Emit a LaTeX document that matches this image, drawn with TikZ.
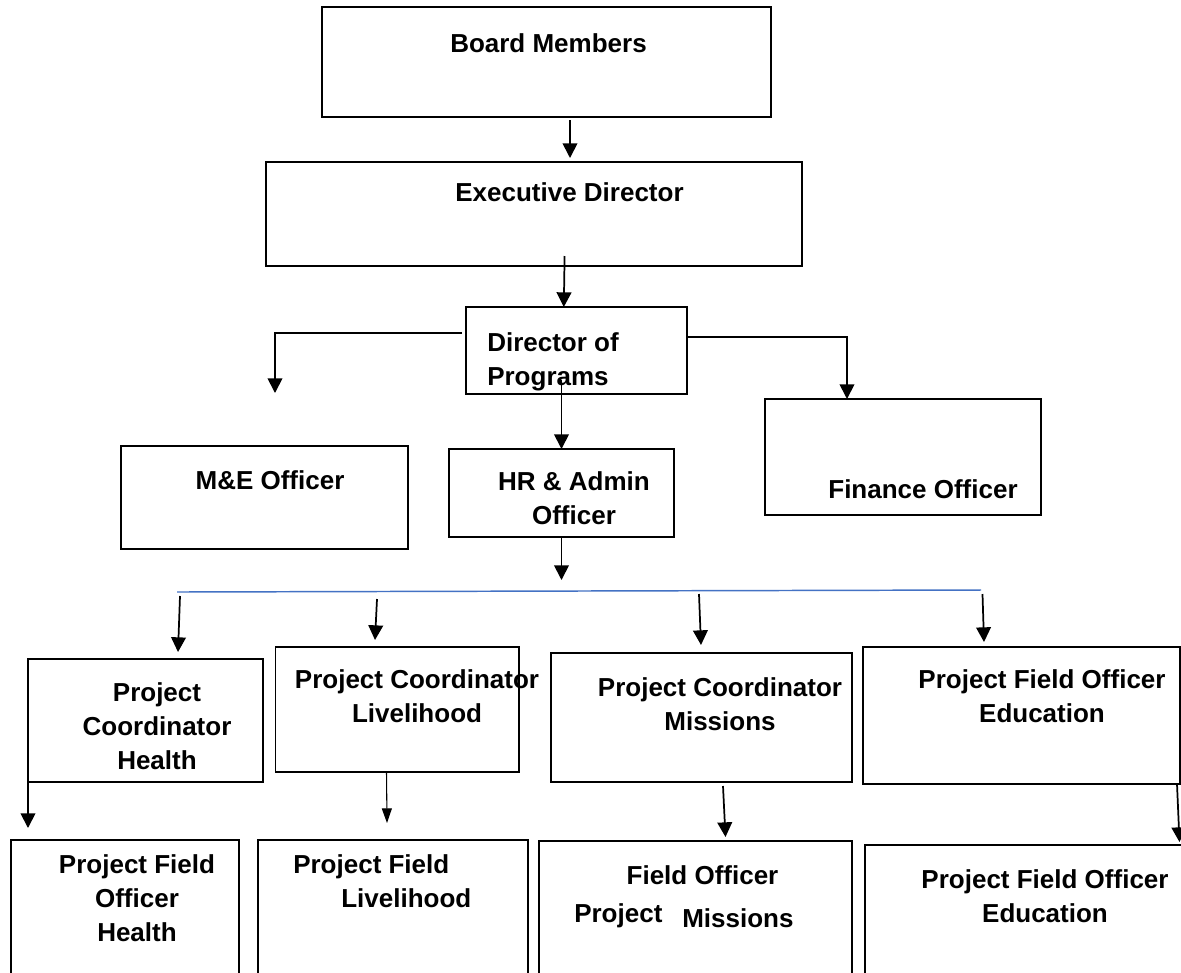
\documentclass[tikz,border=0pt]{standalone}
\usepackage{fontspec}
\setmainfont{Liberation Sans}
\usetikzlibrary{arrows.meta,calc}
\definecolor{busblue}{RGB}{68,114,196}
\newcommand\orgbox[5]{\node[orgrect, minimum width={(#4-#2)*0.75pt}, minimum height={(#5-#3)*0.75pt}] (#1) at ({(#2+#4)/2},{(#3+#5)/2}) {};}
\begin{document}
\begin{tikzpicture}[x=0.75pt,y=-0.75pt,
  orgrect/.style={draw=black, line width=1.4pt, inner sep=0pt, outer sep=0pt, rectangle},
  lbl/.style={font=\fontsize{19.5}{25.5}\selectfont\bfseries, inner sep=0pt, anchor=base, align=center},
  arr/.style={line width=1.3pt, -{Triangle[length=11pt,width=11pt]}},
  thinarr/.style={line width=0.8pt, -{Triangle[length=11pt,width=7.5pt]}},
  busline/.style={draw=busblue, line width=1.1pt}]
\useasboundingbox (0,0) rectangle (1181,972);
\fill[white] (0,0) rectangle (1181,972);
\clip (0,0) rectangle (1181,972);
% boxes
\orgbox{board}{322}{7}{771}{117}
\orgbox{exec}{266}{162}{802}{266}
\orgbox{dop}{466}{307}{687}{394}
\orgbox{me}{121}{446}{408}{549}
\orgbox{hr}{449}{449}{674}{537}
\orgbox{fin}{765}{399}{1041}{515}
\orgbox{pch}{28}{659}{263}{782}
\orgbox{pcl}{275.5}{647}{519}{772}
\orgbox{pcm}{551}{653}{852}{782}
\orgbox{pfe}{863}{647}{1180}{784}
\orgbox{bh}{11}{840}{239}{990}
\orgbox{bl}{258}{840}{528}{990}
\orgbox{bm}{539}{841}{852}{990}
\orgbox{be}{865}{845}{1195}{990}
% labels (multi-line nodes: base anchor is on the last line)
\node[lbl] (tBoard) at (548.5,52) {Board Members};
\node[lbl] (tExec) at (569.5,201) {Executive Director};
\node[lbl, anchor=base west, align=left] (tDop) at (487,385) {Director of\\Programs};
\node[lbl] (tMe) at (270,489) {M\&E Officer};
\node[lbl] (tHr) at (574,524) {HR \& Admin\\Officer};
\node[lbl] (tFin) at (923,498) {Finance Officer};
\node[lbl] (tPch) at (157,769) {Project\\Coordinator\\Health};
\node[lbl] (tPcl) at (417,722) {Project Coordinator\\Livelihood};
\node[lbl] (tPcm) at (720,730) {Project Coordinator\\Missions};
\node[lbl] (tPfe) at (1042,722) {Project Field Officer\\Education};
\node[lbl] (tBh) at (137,941) {Project Field\\Officer\\Health};
\node[lbl, anchor=base west, align=left] (tBl) at (293,907) {Project Field\\\hspace*{36pt}Livelihood};
\node[lbl] (tBm1) at (702.5,884) {Field Officer};
\node[lbl, anchor=base west] (tBm2) at (574,922) {Project};
\node[lbl, anchor=base west] (tBm3) at (682,927) {Missions};
\node[lbl] (tBe) at (1045,922) {Project Field Officer\\Education};
% connectors
\draw[arr] ($(board.south)+(23.5,3)$) -- ($(exec.north)+(36,-4)$);
\draw[arr] ($(exec.south)+(30.6,-10)$) -- ($(dop.north)+(-12.7,0)$);
\draw[arr] ($(dop.west)+(-4,-17.5)$) -| ($(me.north)+(10.5,-53)$);
\draw[arr] ($(dop.east)+(0,-13.5)$) -| ($(fin.north)+(-56,0)$);
\draw[arr] ($(dop.south)+(-15,-14)$) -- (hr.north);
\coordinate (busHR) at ($(hr.south)+(0,43)$);
\draw[arr] (hr.south) -- (busHR);
\coordinate (busL) at (177,592);
\coordinate (busR) at (981,590);
\draw[busline] (busL) -- (busR);
\draw[arr] ($(busL)+(3,4)$) -- ($(pch.north)+(32.5,-7)$);
\draw[arr] ($(busL)+(200,7)$) -- ($(pcl.north)+(-22.25,-7)$);
\draw[arr] ($(busL)+(522,2)$) -- ($(pcm.north)+(-0.5,-8)$);
\draw[arr] ($(busR)+(1.5,4)$) -- ($(pfe.north)+(-37.5,-5)$);
\draw[arr] (pch.south west) -- ($(bh.north west)+(17,-12)$);
\draw[thinarr] ($(pcl.south)+(-10.75,0)$) -- ($(bl.north)+(-6,-17)$);
\draw[arr] ($(pcm.south)+(21.5,4)$) -- ($(bm.north)+(30,-4)$);
\draw[arr] ($(pfe.south east)+(-3,0)$) -- ($(be.north west)+(314.5,-3)$);
\end{tikzpicture}
\end{document}
